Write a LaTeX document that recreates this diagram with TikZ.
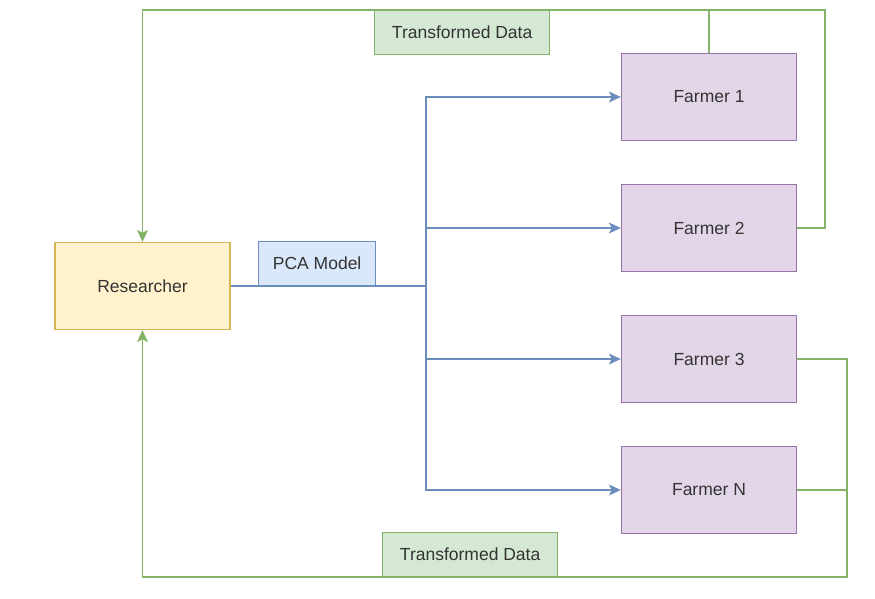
\documentclass[tikz,border=0pt]{standalone}
\usepackage{fontspec}
\setmainfont{Liberation Sans}
\usepackage{xcolor}
\usetikzlibrary{arrows.meta,positioning}

\definecolor{resfill}{HTML}{FFF2CC}
\definecolor{resdraw}{HTML}{D6B656}
\definecolor{pcafill}{HTML}{DAE8FC}
\definecolor{pcadraw}{HTML}{6C8EBF}
\definecolor{datafill}{HTML}{D5E8D4}
\definecolor{datadraw}{HTML}{82B366}
\definecolor{farmfill}{HTML}{E1D5E7}
\definecolor{farmdraw}{HTML}{9673A6}
\definecolor{txt}{HTML}{333333}

\begin{document}
\begin{tikzpicture}[x=1pt, y=-1pt, line width=1.3pt,
    every node/.style = {font=\fontsize{17.5}{20}\selectfont, text=txt},
    box/.style = {draw, minimum width=175pt, minimum height=87pt, inner sep=0pt},
    researcher/.style = {box, fill=resfill, draw=resdraw},
    farmer/.style = {box, fill=farmfill, draw=farmdraw},
    tag/.style = {draw, inner sep=0pt, minimum height=44pt},
    modeltag/.style = {tag, fill=pcafill, draw=pcadraw, minimum width=117pt},
    datatag/.style = {tag, fill=datafill, draw=datadraw, minimum width=175pt},
    sendline/.style = {draw=pcadraw, -{Stealth[length=12pt,width=11pt,inset=3pt]}},
    backline/.style = {draw=datadraw},
    backarrow/.style = {backline, -{Stealth[length=12pt,width=11pt,inset=3pt]}}]
  \useasboundingbox (0,0) rectangle (875,598);

  \node[researcher] (res) at (142.5,286) {Researcher};
  \node[farmer] (f1) at (709,97) {Farmer 1};
  \node[farmer] (f2) at (709,228) {Farmer 2};
  \node[farmer] (f3) at (709,359) {Farmer 3};
  \node[farmer] (fN) at (709,490) {Farmer N};

  % model goes out to every farmer
  \coordinate (split) at (426,286);
  \node[modeltag, anchor=south west] (pca) at (258,286) {PCA Model};
  \draw[draw=pcadraw] (res.east) -- (split);
  \foreach \f in {f1,f2,f3,fN}
    \draw[sendline] (split) |- (\f.west);

  % transformed data back to the researcher
  \coordinate (topright) at (825,10);
  \coordinate (topleft) at (142.5,10);
  \coordinate (botright) at (847,577);
  \coordinate (botleft) at (142.5,577);
  \node[datatag, anchor=north west] (dataup) at (374,10) {Transformed Data};
  \node[datatag, anchor=south west] (datadown) at (382,577) {Transformed Data};

  \draw[backarrow] (f2.east) -| (topright) -- (topleft) -- (res.north);
  \draw[backline] (f1.north) -- (f1.north |- topleft);
  \draw[backarrow] (f3.east) -| (botright) -- (botleft) -- (res.south);
  \draw[backline] (fN.east) -- (fN.east -| botright);
\end{tikzpicture}
\end{document}
